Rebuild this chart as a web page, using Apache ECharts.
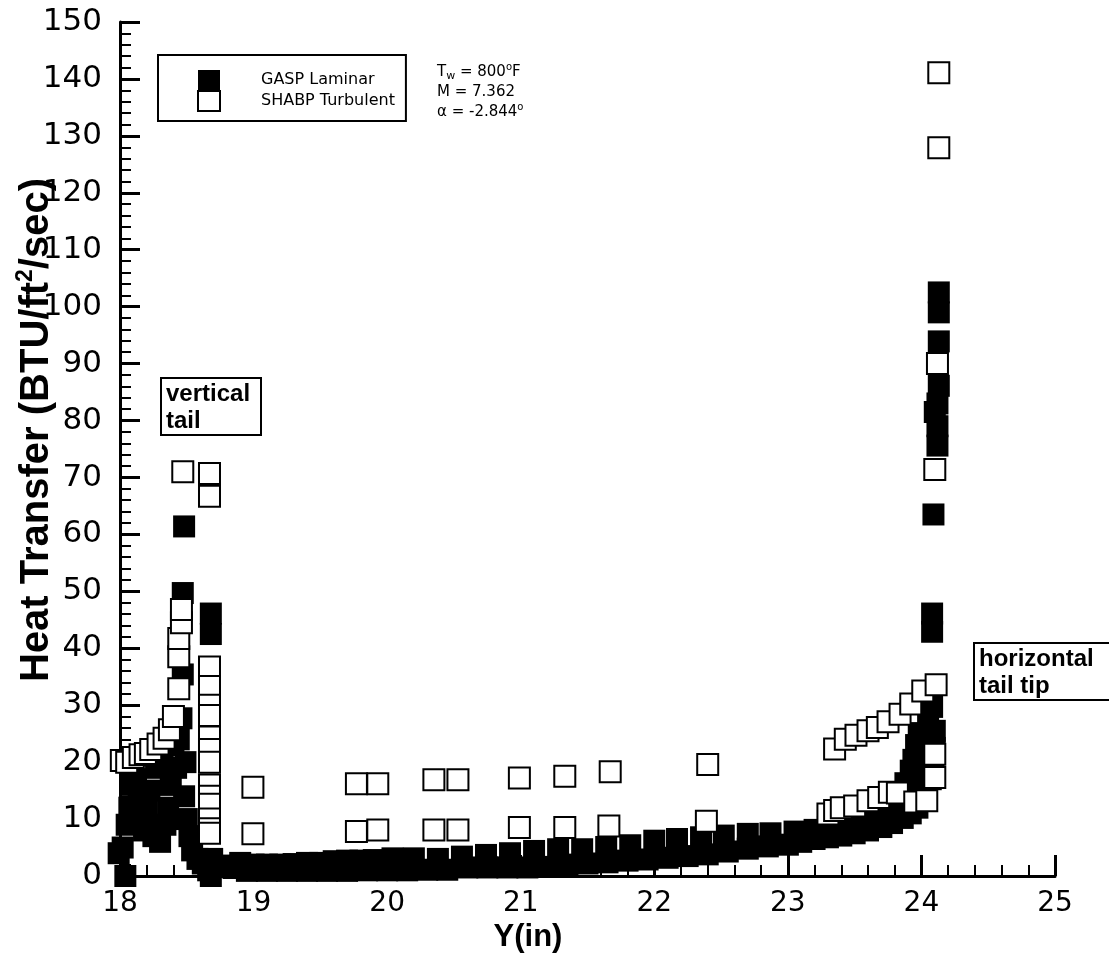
<!DOCTYPE html>
<html>
<head>
<meta charset="utf-8">
<script src="https://cdn.jsdelivr.net/npm/echarts@6/dist/echarts.min.js"></script>
<style>
  html, body { margin: 0; padding: 0; background: #fff; }
  #chart { width: 1109px; height: 958px; }
</style>
</head>
<body>
<div id="chart"></div>
<script>
// Axis ticks
const xTicks = [18, 19, 20, 21, 22, 23, 24, 25];
const yTicks = [0, 10, 20, 30, 40, 50, 60, 70, 80, 90, 100, 110, 120, 130, 140, 150];

// GASP laminar: vertical tail region
const gaspTailY = [17.99, 18.02, 18.04, 18.05, 18.07, 18.09, 18.12, 18.14, 18.16, 18.18, 18.2, 18.22, 18.25, 18.27, 18.3, 18.32, 18.34, 18.36, 18.38, 18.4, 18.42, 18.44, 18.46, 18.47, 18.47, 18.48, 18.48, 18.49, 18.5, 18.52, 18.54, 18.58, 18.62, 18.66, 18.68, 18.69, 18.68, 18.68, 18.72, 18.76];
const gaspTailQ = [4.0, 5.0, 0.0, 9.0, 12.0, 16.0, 17.0, 13.0, 10.0, 8.0, 11.5, 15.0, 7.0, 19.0, 6.0, 21.0, 9.0, 12.0, 16.0, 23.0, 19.0, 24.0, 27.7, 35.4, 49.7, 61.4, 14.0, 20.0, 10.0, 7.0, 4.5, 3.0, 2.2, 1.0, 0.0, 3.0, 42.5, 46.1, 1.6, 1.8];

// GASP laminar: upper edge of the span-wise band
const gaspUpperY = [18.8, 18.9, 19.0, 19.1, 19.2, 19.3, 19.4, 19.5, 19.6, 19.7, 19.8, 19.9, 20.04, 20.2, 20.38, 20.56, 20.74, 20.92, 21.1, 21.28, 21.46, 21.64, 21.82, 22.0, 22.17, 22.35, 22.52, 22.7, 22.87, 23.05, 23.2, 23.3, 23.4, 23.5, 23.6, 23.7, 23.78, 23.84, 23.88, 23.92, 23.94, 23.96, 23.98, 24.05, 24.08];
const gaspUpperQ = [1.8, 2.3, 2.0, 2.0, 2.0, 2.1, 2.3, 2.3, 2.6, 2.7, 2.7, 2.8, 3.1, 3.1, 3.0, 3.4, 3.7, 4.0, 4.4, 4.7, 4.7, 5.1, 5.4, 6.2, 6.5, 6.8, 7.1, 7.4, 7.5, 7.8, 8.1, 8.6, 9.2, 9.8, 10.6, 11.5, 13.0, 14.5, 16.3, 18.5, 20.4, 23.0, 25.1, 27.0, 29.7];

// GASP laminar: lower edge of the span-wise band
const gaspLowerY = [18.85, 18.95, 19.1, 19.25, 19.4, 19.55, 19.7, 19.85, 20.0, 20.15, 20.3, 20.45, 20.6, 20.75, 20.9, 21.05, 21.2, 21.35, 21.5, 21.65, 21.8, 21.95, 22.1, 22.25, 22.4, 22.55, 22.7, 22.85, 23.0, 23.1, 23.2, 23.3, 23.4, 23.5, 23.6, 23.7, 23.78, 23.86, 23.92, 23.97, 24.0, 24.04, 24.07, 24.09, 24.1, 24.1];
const gaspLowerQ = [1.4, 0.9, 0.9, 0.9, 0.9, 0.9, 0.9, 1.0, 1.0, 1.0, 1.1, 1.1, 1.5, 1.5, 1.5, 1.5, 1.6, 2.0, 2.2, 2.4, 2.7, 2.9, 3.2, 3.5, 3.8, 4.3, 4.8, 5.2, 5.5, 6.0, 6.5, 6.8, 7.1, 7.5, 8.0, 8.6, 9.3, 10.2, 11.0, 12.0, 13.5, 15.0, 17.0, 19.5, 22.5, 25.5];

// GASP laminar: interior of the band near the tip
const gaspMidY = [23.6, 23.75, 23.85, 23.9, 23.95, 23.98, 24.02, 24.05];
const gaspMidQ = [9.3, 11.0, 12.5, 14.5, 16.5, 19.0, 21.0, 24.0];

// GASP laminar: horizontal tail tip
const gaspTipY = [24.08, 24.08, 24.09, 24.12, 24.12, 24.1, 24.12, 24.13, 24.13, 24.13, 24.13];
const gaspTipQ = [42.9, 46.1, 63.5, 75.6, 79.0, 81.5, 83.0, 86.1, 93.9, 99.0, 102.5];

// SHABP turbulent: vertical tail region
const shabpTailY = [18.01, 18.05, 18.1, 18.15, 18.19, 18.23, 18.285, 18.33, 18.37, 18.4, 18.44, 18.44, 18.44, 18.46, 18.46, 18.47, 18.67, 18.67, 18.67, 18.67, 18.67, 18.67, 18.67, 18.67, 18.67, 18.67, 18.67, 18.67, 18.67, 18.67, 18.67];
const shabpTailQ = [20.3, 20.0, 20.8, 21.3, 21.5, 22.2, 23.2, 24.2, 25.7, 28.0, 32.9, 38.5, 41.7, 44.5, 46.8, 71.0, 70.7, 66.7, 36.7, 33.3, 30.0, 28.2, 24.4, 22.2, 20.0, 16.0, 14.0, 12.6, 10.0, 8.3, 7.5];

// SHABP turbulent: span-wise stations
const shabpMidY = [18.995, 18.995, 19.77, 19.93, 19.77, 19.93, 20.35, 20.53, 20.35, 20.53, 20.99, 20.99, 21.33, 21.33, 21.67, 21.66, 22.4, 22.39];
const shabpMidQ = [15.6, 7.4, 16.2, 16.2, 7.8, 8.1, 16.9, 16.9, 8.1, 8.1, 17.2, 8.5, 17.5, 8.5, 18.3, 8.8, 19.6, 9.6];

// SHABP turbulent: approach to the horizontal tail tip
const shabpTipY = [23.3, 23.35, 23.4, 23.5, 23.6, 23.68, 23.76, 23.82, 23.95, 24.04, 23.35, 23.43, 23.51, 23.6, 23.67, 23.75, 23.84, 23.92, 24.01, 24.11, 24.1, 24.1, 24.1, 24.12, 24.13, 24.13];
const shabpTipQ = [10.9, 11.5, 12.0, 12.3, 13.2, 13.8, 14.7, 14.6, 13.0, 13.2, 22.3, 24.0, 24.7, 25.5, 26.1, 27.1, 28.4, 30.2, 32.5, 33.6, 21.4, 17.3, 71.4, 90.0, 127.9, 141.1];

function pairs(xs, ys) { return xs.map((x, i) => [x, ys[i]]); }

const gaspData = [].concat(
  pairs(gaspTailY, gaspTailQ),
  pairs(gaspUpperY, gaspUpperQ),
  pairs(gaspLowerY, gaspLowerQ),
  pairs(gaspMidY, gaspMidQ),
  pairs(gaspTipY, gaspTipQ)
);
const shabpData = [].concat(
  pairs(shabpTailY, shabpTailQ),
  pairs(shabpMidY, shabpMidQ),
  pairs(shabpTipY, shabpTipQ)
);

const axisLine = { show: true, lineStyle: { color: '#000', width: 3 } };

const chart = echarts.init(document.getElementById('chart'), null, { renderer: 'canvas' });
chart.setOption({
  backgroundColor: '#fff',
  animation: false,
  grid: { left: 120, top: 22, width: 935, height: 854, containLabel: false },
  xAxis: {
    type: 'value',
    min: xTicks[0], max: xTicks[xTicks.length - 1], interval: 1,
    axisLine: axisLine,
    axisTick: { show: true, inside: true, length: 21, lineStyle: { color: '#000', width: 3 } },
    minorTick: { show: true, splitNumber: 5, length: 11, lineStyle: { color: '#000', width: 2 } },
    splitLine: { show: false },
    axisLabel: { margin: 14, fontFamily: 'DejaVu Sans', fontSize: 28, color: '#000' }
  },
  yAxis: {
    type: 'value',
    min: yTicks[0], max: yTicks[yTicks.length - 1], interval: 10,
    axisLine: axisLine,
    axisTick: { show: true, inside: true, length: 20, lineStyle: { color: '#000', width: 3 } },
    minorTick: { show: true, splitNumber: 5, length: 11, lineStyle: { color: '#000', width: 2 } },
    splitLine: { show: false },
    axisLabel: { margin: 18, fontFamily: 'DejaVu Sans', fontSize: 31, color: '#000' }
  },
  legend: {
    orient: 'vertical', left: 158, top: 55,
    itemWidth: 22, itemHeight: 20, itemGap: 0,
    padding: [15, 11, 9, 39],
    borderColor: '#000', borderWidth: 2, backgroundColor: '#fff',
    icon: 'rect',
    textStyle: { fontFamily: 'DejaVu Sans', fontSize: 16, color: '#000', padding: [0, 0, 0, 36] },
    data: ['GASP Laminar', 'SHABP Turbulent']
  },
  graphic: [
    {
      type: 'text', left: 437, top: 62,
      style: {
        text: '{t|T}{sub|w}{t| = 800}{sup|o}{t|F}\n{t|M = 7.362}\n{t|α = -2.844}{sup|o}',
        fill: '#000',
        rich: {
          t: { fontFamily: 'DejaVu Sans', fontSize: 15, lineHeight: 20 },
          sub: { fontFamily: 'DejaVu Sans', fontSize: 11, verticalAlign: 'bottom', lineHeight: 20 },
          sup: { fontFamily: 'DejaVu Sans', fontSize: 10, verticalAlign: 'top', lineHeight: 20 }
        }
      }
    },
    {
      type: 'group', left: 160, top: 377,
      children: [
        { type: 'rect', shape: { x: 0, y: 0, width: 100, height: 57 }, style: { fill: '#fff', stroke: '#000', lineWidth: 2 } },
        { type: 'text', x: 5, y: 3, style: { text: 'vertical\ntail', font: 'bold 24px "Liberation Sans"', lineHeight: 27, fill: '#000' } }
      ]
    },
    {
      type: 'group', left: 973, top: 642,
      children: [
        { type: 'rect', shape: { x: 0, y: 0, width: 150, height: 57 }, style: { fill: '#fff', stroke: '#000', lineWidth: 2 } },
        { type: 'text', x: 5, y: 3, style: { text: 'horizontal\ntail tip', font: 'bold 24px "Liberation Sans"', lineHeight: 27, fill: '#000' } }
      ]
    },
    {
      type: 'text', x: 528, y: 937,
      style: { text: 'Y(in)', font: 'bold 31px "Liberation Sans"', fill: '#000', align: 'center', verticalAlign: 'middle' }
    },
    {
      type: 'text', x: 37, y: 430, rotation: Math.PI / 2,
      style: {
        text: '{b|Heat Transfer (BTU/ft}{s|2}{b|/sec)}',
        align: 'center', verticalAlign: 'middle', fill: '#000',
        rich: {
          b: { font: 'bold 40px "Liberation Sans"', lineHeight: 46 },
          s: { font: 'bold 23px "Liberation Sans"', verticalAlign: 'top', lineHeight: 46 }
        }
      }
    }
  ],
  series: [
    {
      name: 'GASP Laminar', type: 'scatter', symbol: 'rect', symbolSize: 22,
      clip: false, z: 2,
      itemStyle: { color: '#000', opacity: 1 },
      emphasis: { disabled: true },
      data: gaspData
    },
    {
      name: 'SHABP Turbulent', type: 'scatter', symbol: 'rect', symbolSize: 21,
      clip: false, z: 3,
      itemStyle: { color: '#fff', borderColor: '#000', borderWidth: 2, opacity: 1 },
      emphasis: { disabled: true },
      data: shabpData
    }
  ]
});
</script>
</body>
</html>
